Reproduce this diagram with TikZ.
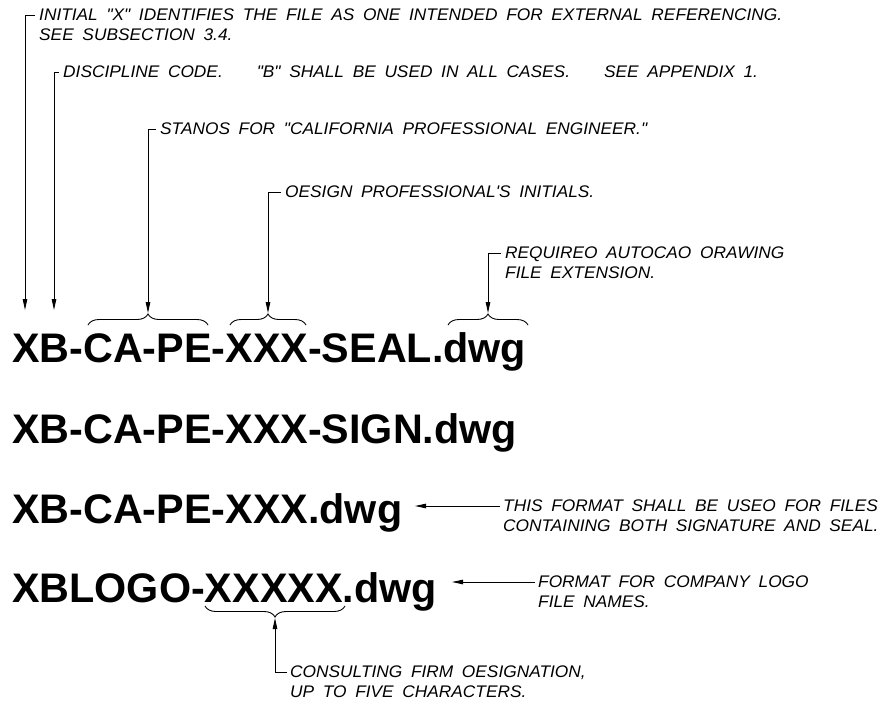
\documentclass[tikz,border=0pt]{standalone}
\usepackage{fontspec}
\setmainfont{Liberation Sans}
\newfontfamily\notefont[FakeStretch=1.03, WordSpace=1.8]{Liberation Sans}
\usetikzlibrary{arrows.meta, positioning, decorations.pathreplacing}

\begin{document}
\begin{tikzpicture}[
    x=1pt, y=-1pt, % work in pixels, y pointing down
    >={Triangle[length=11pt, width=4.5pt]}, % narrow CAD arrow tips
    fname/.style={anchor=base west, inner sep=0pt, font=\fontsize{41.3}{48}\selectfont\bfseries},
    note/.style={anchor=north west, inner sep=0pt, align=left,
                 font=\fontsize{16.8}{19.6}\selectfont\notefont\itshape},
    leader/.style={line width=0.9pt},
    curly/.style={line width=0.9pt, decorate, decoration={brace, amplitude=11pt}}
]

    \useasboundingbox (0,0) rectangle (886,713);

    % File names
    \node[fname] (seal) at (12,362) {XB-CA-PE-XXX-SEAL.dwg};
    \node[fname] (sign) at (12,443) {XB-CA-PE-XXX-SIGN.dwg};
    \node[fname] (both) at (12,523) {XB-CA-PE-XXX.dwg};
    \node[fname] (logo) at (12,602) {XBLOGO-XXXXX.dwg};

    % Braces over the name parts
    \draw[curly] (88,325) -- (208,325);   % CA-PE
    \draw[curly] (230,325) -- (306,325);  % XXX
    \draw[curly] (448,325) -- (528,325);  % dwg
    \draw[curly] (345,606) -- (205,606);  % XXXXX (points down)

    % Arrow targets
    \coordinate (tipX)    at (25,310);
    \coordinate (tipB)    at (54,310);
    \coordinate (tipCAPE) at (148,313);
    \coordinate (tipXXX)  at (268,313);
    \coordinate (tipDWG)  at (488,313);
    \coordinate (tipBOTH) at (415,506);
    \coordinate (tipLOGO) at (452,582);
    \coordinate (tipFIRM) at (275,618);

    % Notes
    \node[note] (init) at (39,9)
        {INITIAL "X" IDENTIFIES THE FILE AS ONE INTENDED FOR EXTERNAL REFERENCING.\\SEE SUBSECTION 3.4.};
    \node[note] (disc) at (63,66)
        {DISCIPLINE CODE.\hspace{34pt}"B" SHALL BE USED IN ALL CASES.\hspace{34pt}SEE APPENDIX 1.};
    \node[note] (stanos) at (160,123)
        {STANOS FOR "CALIFORNIA PROFESSIONAL ENGINEER."};
    \node[note] (initials) at (285,186)
        {OESIGN PROFESSIONAL'S INITIALS.};
    \node[note] (ext) at (505,247)
        {REQUIREO AUTOCAO ORAWING\\FILE EXTENSION.};
    \node[note] (useo) at (503,500)
        {THIS FORMAT SHALL BE USEO FOR FILES\\CONTAINING BOTH SIGNATURE AND SEAL.};
    \node[note] (cologo) at (538,576)
        {FORMAT FOR COMPANY LOGO\\FILE NAMES.};
    \node[note] (firm) at (290,666)
        {CONSULTING FIRM OESIGNATION,\\UP TO FIVE CHARACTERS.};

    % Leaders
    \draw[leader, ->] ([xshift=-4pt, yshift=-6pt]init.north west) -| (tipX);
    \draw[leader, ->] ([xshift=-4pt, yshift=-6pt]disc.north west) -| (tipB);
    \draw[leader, ->] ([xshift=-4pt, yshift=-6pt]stanos.north west) -| (tipCAPE);
    \draw[leader, ->] ([xshift=-4pt, yshift=-6pt]initials.north west) -| (tipXXX);
    \draw[leader, ->] ([xshift=-4pt, yshift=-6pt]ext.north west) -| (tipDWG);
    \draw[leader, ->] ([xshift=-3pt, yshift=-6pt]useo.north west) -- (tipBOTH);
    \draw[leader, ->] ([xshift=-3pt, yshift=-6pt]cologo.north west) -- (tipLOGO);
    \draw[leader, ->] ([xshift=-3pt, yshift=-6pt]firm.north west) -| (tipFIRM);

\end{tikzpicture}
\end{document}
